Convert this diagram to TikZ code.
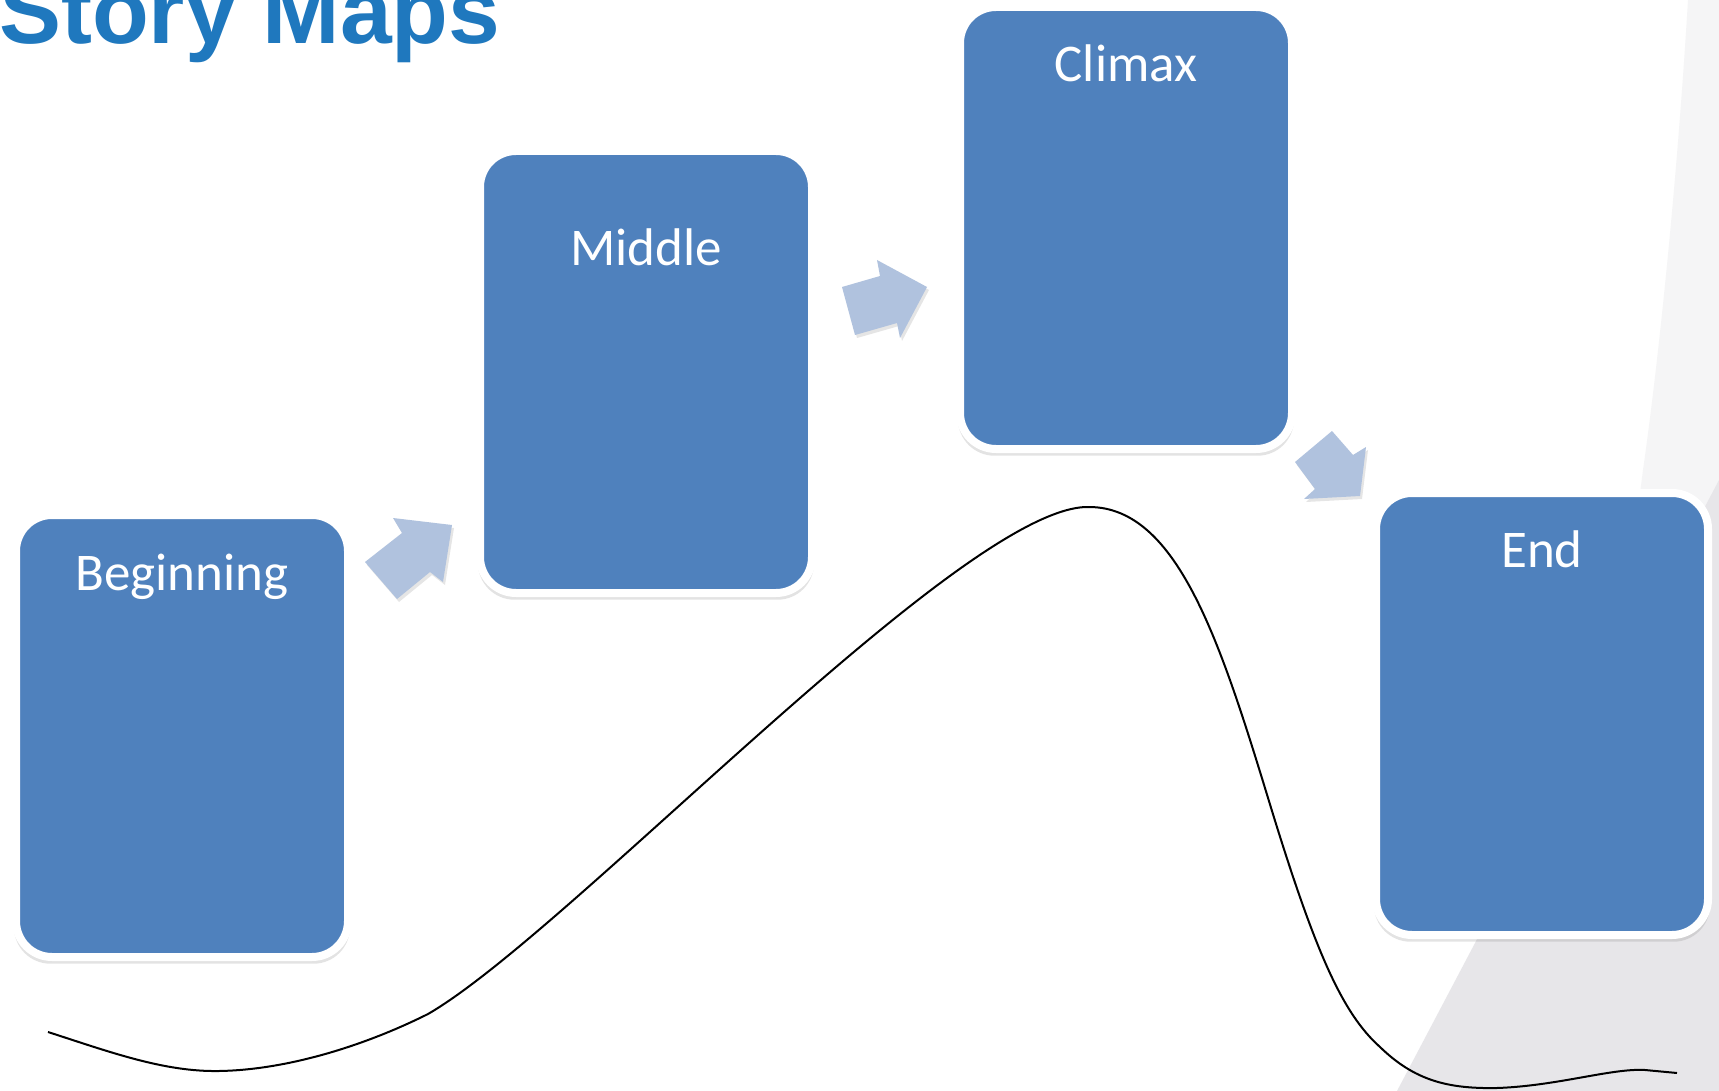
\documentclass[tikz,border=0pt]{standalone}
\usepackage{fontspec}
\newfontfamily\titlefont{Liberation Sans}
\newfontfamily\cardfont{Carlito}
\usetikzlibrary{shadows}
\definecolor{cardblue}{RGB}{79,129,189}
\definecolor{arrowblue}{RGB}{176,194,222}
\definecolor{titleblue}{RGB}{31,120,190}
\definecolor{paleback}{RGB}{245,245,246}
\definecolor{greyback}{RGB}{231,230,233}
\begin{document}
\begin{tikzpicture}[x=0.5pt,y=-0.5pt]
    \tikzset{card/.style = {shape=rectangle,rounded corners=18pt,fill=cardblue,draw=white,line width=4pt,minimum width=166pt,minimum height=221pt,drop shadow={shadow xshift=0pt,shadow yshift=-2pt,shadow scale=1.012,opacity=0.22}}}
    \tikzset{cardtext/.style = {anchor=base,text=white,font=\cardfont\fontsize{26.5}{30}\selectfont}}
    \tikzset{blockarrow/.style = {fill=arrowblue,drop shadow={shadow xshift=1pt,shadow yshift=-1.5pt,opacity=0.2}}}
    \tikzset{storyline/.style = {draw=black,line width=1pt}}
    \useasboundingbox (0,0) rectangle (1719,1091);
    \fill[white] (0,0) rectangle (1719,1091);
    % background
    \fill[paleback] (1688,0) .. controls (1676,200) and (1656,380) .. (1643,470) .. controls (1620,650) and (1590,850) .. (1560,1091) -- (1719,1091) -- (1719,0) -- cycle;
    \fill[greyback] (1397,1091) -- (1719,480) -- (1719,1091) -- cycle;
    \node[anchor=base west,text=titleblue,font=\titlefont\bfseries\fontsize{46.5}{50}\selectfont] (title) at (-8,44) {Story Maps};
    % the line of the story
    \draw[storyline] (48,1032) .. controls (110,1052) and (164,1072) .. (219,1071)
        .. controls (285,1070) and (362,1047) .. (428,1014)
        .. controls (570,932) and (965,504) .. (1089,507)
        .. controls (1179,507) and (1222,647) .. (1272,811)
        .. controls (1316,954) and (1343,1014) .. (1380,1047)
        .. controls (1414,1080) and (1447,1089) .. (1497,1088)
        .. controls (1557,1086) and (1612,1068) .. (1645,1070)
        -- (1677,1073);
    \node[card] (beginning) at (182,736) {};
    \node[card] (middle) at (646,372) {};
    \node[card] (climax) at (1126,228) {};
    \node[card] (end) at (1542,714) {};
    \node[cardtext] (beginninglabel) at (182,590) {Beginning};
    \node[cardtext] (middlelabel) at (646,266) {Middle};
    \node[cardtext] (climaxlabel) at (1126,82) {Climax};
    \node[cardtext] (endlabel) at (1542,567) {End};
    % arrows between the cards
    \fill[blockarrow] (365,562) -- (402,533) -- (393,518) -- (452,525) -- (443,582) -- (430,572) -- (397,599) -- cycle;
    \fill[blockarrow] (842,287) -- (880,276) -- (877,260) -- (927,287) -- (900,338) -- (897,323) -- (855,335) -- cycle;
    \fill[blockarrow] (1295,462) -- (1332,431) -- (1353,455) -- (1366,447) -- (1360,496) -- (1304,499) -- (1315,489) -- cycle;
\end{tikzpicture}
\end{document}
